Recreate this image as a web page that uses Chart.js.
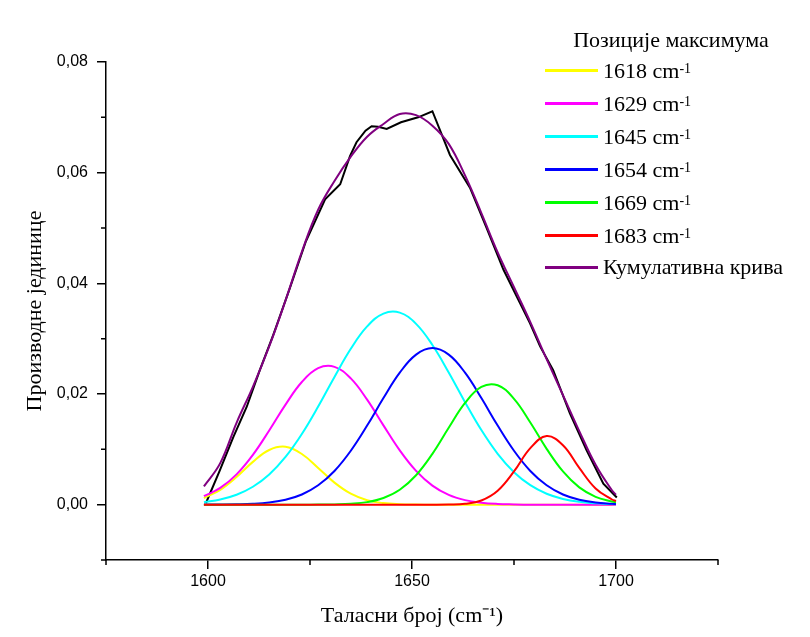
<!DOCTYPE html>
<html>
<head>
<meta charset="utf-8">
<script src="https://cdn.jsdelivr.net/npm/chart.js@4.4.1/dist/chart.umd.min.js"></script>
<style>
  body { margin: 0; background: #fff; }
  #wrap { position: relative; width: 810px; height: 637px; }
  #legend {
    position: absolute; left: 545px; top: 26px; width: 250px;
    font-family: 'Liberation Serif', 'Times New Roman', serif; font-size: 22px; color: #000;
  }
  #legend .ttl { text-align: center; height: 28px; line-height: 28px; padding-left: 2px; }
  #legend .row { display: flex; align-items: center; height: 33px; white-space: nowrap; }
  #legend .row.last { height: 30px; }
  #legend .swatch { width: 53px; height: 3px; margin-right: 5px; }
  #legend sup { font-size: 14px; line-height: 0; position: relative; top: -2px; }
</style>
</head>
<body>
<div id="wrap">
  <canvas id="peaks" width="810" height="637"></canvas>
  <div id="legend"></div>
</div>
<script>
// wavenumber grid of the fitted curves (cm-1)
const waveNumbers = [1599, 1603, 1607, 1611, 1615, 1619, 1623, 1627, 1631, 1635, 1639, 1643, 1647, 1651,
  1655, 1659, 1663, 1667, 1671, 1675, 1679, 1683, 1687, 1691, 1695, 1699, 1700]

const peak1618 = [0.00119, 0.00268, 0.00500, 0.00773, 0.00988, 0.01046, 0.00916, 0.00664, 0.00398, 0.00198,
  0.00081, 0.00028, 0.00008, 0.00002, 0, 0, 0, 0, 0, 0, 0, 0, 0, 0, 0, 0, 0]
const peak1629 = [0.00153, 0.00303, 0.00548, 0.00900, 0.01340, 0.01808, 0.02217, 0.02467, 0.02491, 0.02282,
  0.01898, 0.01433, 0.00981, 0.00610, 0.00344, 0.00176, 0.00082, 0.00035, 0.00013, 0.00005, 0, 0, 0, 0, 0, 0, 0]
const peak1645 = [0.00046, 0.00094, 0.00180, 0.00324, 0.00546, 0.00863, 0.01277, 0.01773, 0.02309, 0.02817,
  0.03221, 0.03453, 0.03470, 0.03268, 0.02886, 0.02389, 0.01853, 0.01348, 0.00919, 0.00587, 0.00352, 0.00198,
  0.00104, 0.00051, 0.00024, 0.00010, 0.00008]
const peak1654 = [0.00001, 0.00002, 0.00006, 0.00016, 0.00040, 0.00089, 0.00184, 0.00350, 0.00609, 0.00974,
  0.01429, 0.01927, 0.02386, 0.02711, 0.02830, 0.02711, 0.02386, 0.01927, 0.01429, 0.00974, 0.00609, 0.00350,
  0.00184, 0.00089, 0.00040, 0.00016, 0.00013]
const peak1669 = [0, 0, 0, 0, 0, 0, 0, 0.00001, 0.00005, 0.00016, 0.00046, 0.00120, 0.00269, 0.00532, 0.00919,
  0.01389, 0.01838, 0.02128, 0.02157, 0.01913, 0.01485, 0.01009, 0.00600, 0.00312, 0.00142, 0.00057, 0.00044]
const peak1683 = [0, 0, 0, 0, 0, 0, 0, 0, 0, 0, 0, 0, 0, 0, 0, 0.00003, 0.00016, 0.00076, 0.00252, 0.00601,
  0.01021, 0.01239, 0.01074, 0.00664, 0.00293, 0.00093, 0.00066]
const cumulative = [0.0033, 0.0075, 0.0148, 0.0213, 0.0286, 0.0369, 0.0457, 0.0533, 0.0585, 0.0629, 0.0665,
  0.0688, 0.0706, 0.0704, 0.0685, 0.0652, 0.0595, 0.0527, 0.0456, 0.0393, 0.0330, 0.0263, 0.0198, 0.0133,
  0.0072, 0.0026, 0.0018]

// measured spectrum (black line)
const measuredX = [1599.5, 1602.9, 1606.2, 1609.5, 1612.7, 1616, 1620, 1624, 1628.7, 1632.4, 1634.8, 1636.4,
  1638.6, 1640.1, 1641.7, 1643.8, 1647.3, 1651.5, 1655, 1659.3, 1664.2, 1668.3, 1672.4, 1676.5, 1678.9,
  1681.4, 1684.6, 1688.7, 1692.8, 1696.9, 1700.2]
const measuredY = [0.0003, 0.0062, 0.0122, 0.0177, 0.0243, 0.0307, 0.0390, 0.0476, 0.0552, 0.0579, 0.0630,
  0.0655, 0.0676, 0.0684, 0.0683, 0.0679, 0.0691, 0.0700, 0.0711, 0.0632, 0.0573, 0.0500, 0.0425, 0.0364,
  0.0328, 0.0286, 0.0243, 0.0165, 0.0098, 0.0038, 0.0013]

const seriesNames = ['1618', '1629', '1645', '1654', '1669', '1683']
const seriesColors = ['#ffff00', '#ff00ff', '#00ffff', '#0000ff', '#00ff00', '#ff0000']
const cumulativeName = 'Кумулативна крива'

const xMajor = [1600, 1650, 1700]
const xMinor = [1575, 1625, 1675, 1725]
const yMajor = [0, 0.02, 0.04, 0.06, 0.08]
const yMinor = [-0.01, 0.01, 0.03, 0.05, 0.07]

const toPoints = (xs, ys) => xs.map((x, i) => ({ x: x, y: ys[i] }))

const peaks = [peak1618, peak1629, peak1645, peak1654, peak1669, peak1683]
const datasets = peaks.map((p, i) => ({
  label: seriesNames[i] + ' cm-1',
  data: toPoints(waveNumbers, p),
  borderColor: seriesColors[i],
  order: 7 - i,
}))
datasets.push({
  label: cumulativeName,
  data: toPoints(waveNumbers, cumulative),
  borderColor: '#800080',
  order: 0,
})
datasets.push({
  label: 'spectrum',
  data: toPoints(measuredX, measuredY),
  borderColor: '#000000',
  tension: 0,
  order: 8,
})

const serif = "'Liberation Serif', 'Times New Roman', serif"
const sans = "'Liberation Sans', Arial, sans-serif"

// short ticks between the labelled ones
const minorTicks = {
  id: 'minorTicks',
  afterDraw(chart) {
    const { ctx } = chart
    const x = chart.scales.x
    const y = chart.scales.y
    ctx.save()
    ctx.strokeStyle = '#000'
    ctx.lineWidth = 1.5
    ctx.beginPath()
    xMinor.forEach(v => {
      const px = x.getPixelForValue(v)
      ctx.moveTo(px, x.top)
      ctx.lineTo(px, x.top + 5)
    })
    yMinor.forEach(v => {
      const py = y.getPixelForValue(v)
      ctx.moveTo(y.right, py)
      ctx.lineTo(y.right - 5, py)
    })
    ctx.stroke()
    ctx.restore()
  },
}

const peakConfig = {
  type: 'scatter',
  data: { datasets: datasets },
  options: {
    responsive: false,
    animation: false,
    showLine: true,
    layout: { padding: { top: 62, right: 92, left: 0, bottom: 0 } },
    elements: {
      point: { radius: 0 },
      line: { borderWidth: 2, tension: 0.4 },
    },
    plugins: {
      legend: { display: false },
      tooltip: { enabled: false },
    },
    scales: {
      x: {
        type: 'linear',
        min: 1575,
        max: 1725,
        afterBuildTicks: s => { s.ticks = xMajor.map(v => ({ value: v })) },
        afterFit: s => { s.height = 77 },
        ticks: {
          color: '#000',
          font: { family: sans, size: 16 },
          padding: 3,
          maxRotation: 0,
          autoSkip: false,
          callback: v => String(v),
        },
        grid: { drawOnChartArea: false, color: '#000', lineWidth: 1.5, tickLength: 9 },
        border: { color: '#000', width: 1.5 },
        title: {
          display: true,
          text: 'Таласни број (cm⁻¹)',
          color: '#000',
          font: { family: serif, size: 22 },
          padding: { top: 0, bottom: 8 },
        },
      },
      y: {
        min: -0.01,
        max: 0.08,
        afterBuildTicks: s => { s.ticks = yMajor.map(v => ({ value: v })) },
        afterFit: s => { s.width = 106 },
        ticks: {
          color: '#000',
          font: { family: sans, size: 16 },
          padding: 9,
          callback: v => v.toFixed(2).replace('.', ','),
        },
        grid: { drawOnChartArea: false, color: '#000', lineWidth: 1.5, tickLength: 9 },
        border: { color: '#000', width: 1.5 },
        title: {
          display: true,
          text: 'Производне јединице',
          color: '#000',
          font: { family: serif, size: 22 },
          padding: { top: 22, bottom: 0 },
        },
      },
    },
  },
  plugins: [minorTicks],
}

const peaksCtx = document.getElementById('peaks')
window.peakChart = new Chart(peaksCtx, peakConfig)

// legend drawn over the plot, top right
const legendBox = document.getElementById('legend')
let html = '<div class="ttl">Позиције максимума</div>'
seriesNames.forEach((name, i) => {
  html += '<div class="row"><span class="swatch" style="background:' + seriesColors[i] + '"></span>' +
    name + ' cm<sup>-1</sup></div>'
})
html += '<div class="row last"><span class="swatch" style="background:#800080"></span>' + cumulativeName + '</div>'
legendBox.innerHTML = html
</script>
</body>
</html>
